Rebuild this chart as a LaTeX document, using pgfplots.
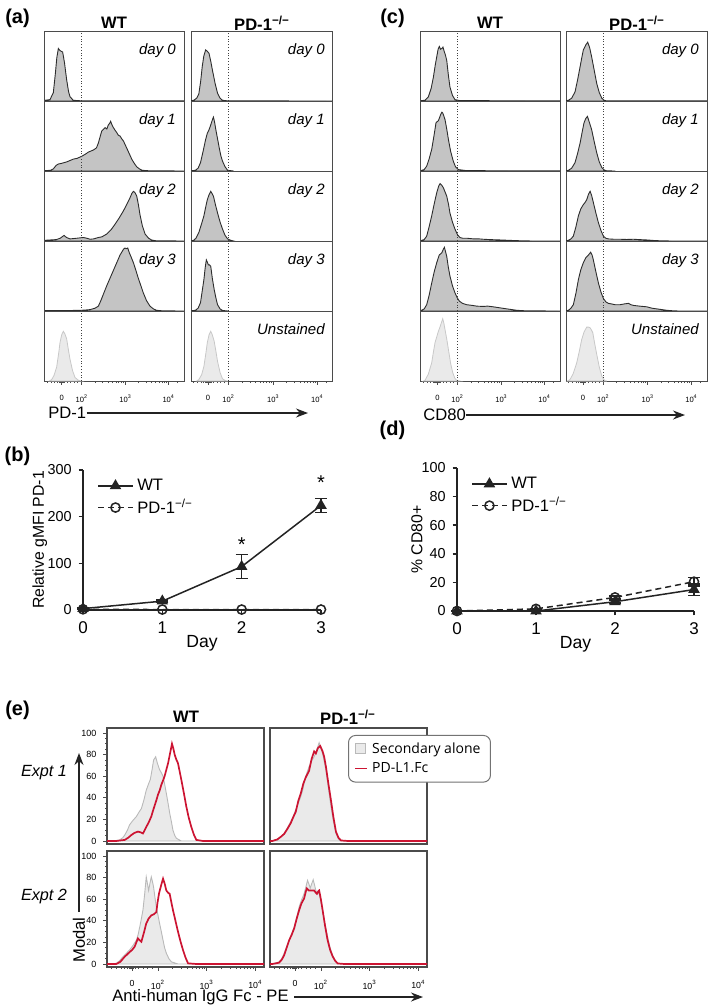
\documentclass[border=0pt]{standalone}
\usepackage{fontspec}
\setmainfont{Liberation Sans}
\newfontfamily\legfont{Open Sans}
\usepackage{pgfplots}
\pgfplotsset{compat=1.18}
\usetikzlibrary{arrows.meta}

\definecolor{histfill}{RGB}{196,196,196}
\definecolor{histline}{RGB}{45,45,45}
\definecolor{unfill}{RGB}{234,234,234}
\definecolor{unline}{RGB}{200,200,200}
\definecolor{secline}{RGB}{185,185,185}
\definecolor{pdred}{RGB}{204,20,50}
\definecolor{boxgray}{RGB}{75,75,75}
\definecolor{ink}{RGB}{35,35,35}

\newcommand{\fs}[1]{\fontsize{#1}{#1}\selectfont}

\tikzset{daylab/.style={anchor=north east, inner sep=0pt, font=\itshape\fs{7.5}}}

\pgfplotsset{
  /pgf/number format/assume math mode=true,
  cell/.style={scale only axis, anchor=north west, height=35pt,
    xmin=0, xmax=1, ymin=0, ymax=1, xtick=\empty, ytick=\empty,
    axis line style={draw=boxgray, line width=0.5pt}},
  lastrow/.style={
    xtick={0.12,0.265,0.58,0.89},
    xticklabels={0,10\textsuperscript{2},10\textsuperscript{3},10\textsuperscript{4}},
    minor xtick={0.02,0.045,0.07,0.09,0.1,0.107,0.112,0.116,0.124,0.128,0.133,0.14,0.16,0.185,0.21,0.235,0.36,0.415,0.455,0.485,0.51,0.531,0.549,0.565,0.673,0.728,0.767,0.797,0.821,0.842,0.86,0.876,0.95},
    xtick pos=left, tick align=outside,
    major tick length=1.8pt, minor tick length=1.1pt,
    tick style={boxgray, line width=0.35pt},
    x tick label style={font=\fs{3.8}, yshift=-1.6pt}},
  hist/.style={draw=histline, fill=histfill, line width=0.45pt},
  unst/.style={draw=unline, fill=unfill, line width=0.4pt},
  gate/.style={densely dotted, draw=black!75, line width=0.4pt},
  ecell/.style={scale only axis, anchor=north west, width=78.5pt, height=58pt,
    xmin=0, xmax=1, ymin=-2.8, ymax=104.6, xtick=\empty, ytick=\empty,
    axis line style={draw=boxgray, line width=0.55pt}},
  eleft/.style={ytick={0,20,40,60,80,100}, minor y tick num=3, ytick pos=left,
    tick align=outside, major tick length=1.8pt, minor tick length=1pt,
    tick style={boxgray, line width=0.35pt},
    y tick label style={font=\fs{4.5}}},
  ebottom/.style={xtick={0.16,0.325,0.635,0.945},
    xticklabels={0,10\textsuperscript{2},10\textsuperscript{3},10\textsuperscript{4}},
    minor xtick={0.03,0.06,0.09,0.11,0.13,0.14,0.15,0.155,0.165,0.17,0.18,0.2,0.23,0.26,0.29,0.418,0.473,0.512,0.542,0.566,0.587,0.605,0.621,0.728,0.783,0.822,0.852,0.876,0.897,0.915,0.931},
    xtick pos=left, tick align=outside, major tick length=1.8pt, minor tick length=1pt,
    tick style={boxgray, line width=0.35pt},
    x tick label style={font=\fs{4.4}, yshift=-1.5pt}},
  sec/.style={draw=secline, fill=unfill, line width=0.45pt,
    legend image code/.code={\draw[##1, sharp corners] (0pt,-2.3pt) rectangle (5pt,2.7pt);}},
  pdl/.style={draw=pdred, line width=0.85pt,
    legend image code/.code={\draw[##1, sharp corners] (0pt,0pt) -- (6pt,0pt);}},
  trend/.style={scale only axis, anchor=south west, clip=false,
    axis x line*=bottom, axis y line*=left,
    axis line style={-, ink, line width=0.75pt},
    xmin=0, xmax=3, xtick={0,1,2,3}, tick align=outside, major tick length=2.2pt,
    tick style={ink, line width=0.75pt},
    x tick label style={font=\fs{8.5}}, y tick label style={font=\fs{7.2}},
    xlabel={Day},
    xlabel style={font=\fs{8.8}, at={(axis description cs:0.5,0)}, anchor=center, yshift=-16.5pt},
    legend style={at={(rel axis cs:0.06,0.97)}, anchor=north west, draw=none, fill=none,
      font=\fs{8.3}, row sep=-1pt, inner sep=0pt},
    legend cell align=left},
  wt/.style={ink, line width=0.75pt, mark=triangle*, mark size=2.6pt, mark options={fill=ink}},
  ko/.style={ink, line width=0.75pt, dash pattern=on 3pt off 2pt, mark=o, mark size=2.3pt,
    mark options={solid, fill=white}},
  ebar/.style={error bars/.cd, y dir=both, y explicit,
    error bar style={ink, line width=0.75pt, solid},
    error mark options={rotate=90, ink, line width=0.75pt, mark size=3pt, solid}},
}

% one histogram cell of panels (a) and (c)
\newcommand{\hcell}[7]{%
  \begin{axis}[cell, at={(#1,#2)}, width=#3, #4]
    \addplot[#5] coordinates {#6} \closedcycle;
    \addplot[gate] coordinates {(0.265,0) (0.265,1)};
    \node[daylab] at (rel axis cs:0.944,0.83) {#7};
  \end{axis}}

% one cell of panel (e)
\newcommand{\ecell}[5]{%
  \begin{axis}[ecell, at={(#1,#2)}, #3]
    \addplot[sec] coordinates {#4} \closedcycle;
    \addplot[pdl] coordinates {#5};
  \end{axis}}

\begin{document}
\begin{tikzpicture}
\path[use as bounding box] (0,0) rectangle (354.5pt,-504pt);

% ---------- panel labels and headers
\node[font=\bfseries\fs{10}] at (8.75pt,-9pt) {(a)};
\node[font=\bfseries\fs{10}] at (8.75pt,-228pt) {(b)};
\node[font=\bfseries\fs{10}] at (196.25pt,-9pt) {(c)};
\node[font=\bfseries\fs{10}] at (196.25pt,-215pt) {(d)};
\node[font=\bfseries\fs{10}] at (8.75pt,-355pt) {(e)};

\node[font=\bfseries\fs{8.3}] at (57pt,-11.5pt) {WT};
\node[font=\bfseries\fs{8.3}] at (131pt,-11.5pt) {PD-1\textsuperscript{−/−}};
\node[font=\bfseries\fs{8.3}] at (245pt,-11.5pt) {WT};
\node[font=\bfseries\fs{8.3}] at (318.5pt,-11.5pt) {PD-1\textsuperscript{−/−}};
\node[font=\bfseries\fs{8.3}] at (93pt,-358.5pt) {WT};
\node[font=\bfseries\fs{8.3}] at (174pt,-358.5pt) {PD-1\textsuperscript{−/−}};

% ---------- (a) PD-1, WT column
\hcell{22.5pt}{-15.5pt}{69.5pt}{}{hist}{(0,0.01)(0.036,0.02)(0.06,0.12)(0.075,0.4)(0.085,0.62)(0.096,0.75)(0.108,0.72)(0.127,0.7)(0.14,0.55)(0.156,0.3)(0.17,0.13)(0.18,0.06)(0.204,0.01)(0.26,0.003)(1,0.003)}{day 0}
\hcell{22.5pt}{-50.5pt}{69.5pt}{}{hist}{(0,0.005)(0.04,0.01)(0.06,0.03)(0.08,0.08)(0.096,0.1)(0.12,0.11)(0.156,0.13)(0.18,0.15)(0.204,0.17)(0.23,0.18)(0.264,0.21)(0.29,0.24)(0.312,0.27)(0.348,0.3)(0.37,0.33)(0.384,0.4)(0.398,0.5)(0.408,0.57)(0.432,0.62)(0.445,0.6)(0.456,0.66)(0.465,0.68)(0.472,0.71)(0.482,0.66)(0.492,0.62)(0.505,0.58)(0.516,0.55)(0.528,0.51)(0.54,0.5)(0.552,0.46)(0.564,0.43)(0.578,0.37)(0.592,0.31)(0.608,0.24)(0.624,0.17)(0.642,0.11)(0.66,0.06)(0.68,0.03)(0.7,0.01)(0.75,0.003)(1,0)}{day 1}
\hcell{22.5pt}{-85.5pt}{69.5pt}{}{hist}{(0,0.01)(0.08,0.02)(0.11,0.04)(0.137,0.08)(0.155,0.05)(0.18,0.03)(0.23,0.04)(0.276,0.05)(0.3,0.04)(0.324,0.025)(0.35,0.03)(0.384,0.05)(0.41,0.06)(0.444,0.1)(0.475,0.16)(0.504,0.24)(0.534,0.33)(0.564,0.43)(0.59,0.53)(0.612,0.62)(0.625,0.68)(0.636,0.71)(0.648,0.69)(0.66,0.64)(0.672,0.52)(0.683,0.38)(0.7,0.22)(0.72,0.1)(0.745,0.04)(0.767,0.014)(0.8,0.003)(1,0)}{day 2}
\hcell{22.5pt}{-120.5pt}{69.5pt}{}{hist}{(0,0.005)(0.1,0.005)(0.2,0.008)(0.28,0.012)(0.324,0.02)(0.36,0.04)(0.384,0.07)(0.4,0.14)(0.42,0.24)(0.444,0.36)(0.468,0.47)(0.492,0.58)(0.516,0.69)(0.54,0.8)(0.564,0.88)(0.575,0.9)(0.583,0.89)(0.595,0.9)(0.607,0.83)(0.62,0.77)(0.636,0.69)(0.654,0.58)(0.671,0.47)(0.69,0.36)(0.707,0.26)(0.73,0.15)(0.755,0.07)(0.78,0.03)(0.803,0.01)(0.85,0.002)(1,0)}{day 3}
\hcell{22.5pt}{-155.5pt}{69.5pt}{lastrow}{unst}{(0.03,0)(0.048,0.02)(0.065,0.08)(0.084,0.2)(0.1,0.42)(0.108,0.55)(0.12,0.66)(0.132,0.71)(0.144,0.67)(0.156,0.6)(0.168,0.45)(0.18,0.31)(0.198,0.15)(0.216,0.05)(0.24,0.01)(0.26,0)}{}

% ---------- (a) PD-1, knockout column
\hcell{95.5pt}{-15.5pt}{71pt}{}{hist}{(0,0.005)(0.019,0.01)(0.04,0.04)(0.055,0.1)(0.068,0.28)(0.079,0.49)(0.09,0.64)(0.103,0.73)(0.115,0.71)(0.127,0.68)(0.14,0.56)(0.151,0.44)(0.17,0.25)(0.187,0.11)(0.205,0.04)(0.222,0.01)(0.26,0.002)(1,0)}{day 0}
\hcell{95.5pt}{-50.5pt}{71pt}{}{hist}{(0,0.003)(0.031,0.01)(0.05,0.04)(0.067,0.12)(0.085,0.28)(0.103,0.45)(0.115,0.54)(0.127,0.59)(0.136,0.64)(0.144,0.69)(0.152,0.74)(0.158,0.77)(0.166,0.7)(0.175,0.59)(0.187,0.46)(0.199,0.33)(0.21,0.22)(0.222,0.14)(0.24,0.06)(0.258,0.01)(0.3,0)}{day 1}
\hcell{95.5pt}{-85.5pt}{71pt}{}{hist}{(0,0.003)(0.019,0.01)(0.035,0.04)(0.055,0.12)(0.075,0.25)(0.091,0.36)(0.105,0.5)(0.115,0.59)(0.127,0.66)(0.139,0.71)(0.148,0.68)(0.158,0.64)(0.172,0.52)(0.187,0.4)(0.205,0.27)(0.222,0.17)(0.24,0.08)(0.258,0.03)(0.28,0.01)(0.3,0)}{day 2}
\hcell{95.5pt}{-120.5pt}{71pt}{}{hist}{(0,0.003)(0.031,0.01)(0.05,0.04)(0.067,0.12)(0.08,0.3)(0.091,0.45)(0.1,0.62)(0.108,0.73)(0.115,0.7)(0.122,0.66)(0.13,0.66)(0.139,0.64)(0.15,0.47)(0.163,0.31)(0.175,0.19)(0.187,0.09)(0.205,0.03)(0.222,0.008)(0.26,0)}{day 3}
\hcell{95.5pt}{-155.5pt}{71pt}{lastrow}{unst}{(0.04,0)(0.055,0.02)(0.075,0.09)(0.091,0.21)(0.105,0.4)(0.115,0.55)(0.127,0.66)(0.139,0.71)(0.15,0.66)(0.163,0.57)(0.175,0.43)(0.187,0.28)(0.205,0.12)(0.222,0.03)(0.246,0.003)(0.26,0)}{Unstained}

\node[anchor=west, inner sep=0pt, font=\fs{8.3}] (pdlab) at (24pt,-206.5pt) {PD-1};
\draw[ink, line width=0.55pt, -{Stealth[length=6pt,width=4.5pt]}] (pdlab.east) -- (154pt,-206.5pt);

% ---------- (c) CD80, WT column
\hcell{210.35pt}{-15.5pt}{69.65pt}{}{hist}{(0,0.005)(0.03,0.01)(0.055,0.06)(0.075,0.18)(0.091,0.34)(0.105,0.52)(0.115,0.63)(0.125,0.74)(0.134,0.78)(0.142,0.74)(0.151,0.75)(0.16,0.77)(0.167,0.72)(0.177,0.66)(0.187,0.58)(0.198,0.38)(0.21,0.2)(0.228,0.08)(0.246,0.02)(0.282,0.005)(1,0.003)}{}
\hcell{210.35pt}{-50.5pt}{69.65pt}{}{hist}{(0,0.005)(0.025,0.02)(0.043,0.07)(0.06,0.17)(0.079,0.31)(0.095,0.5)(0.11,0.69)(0.127,0.72)(0.135,0.76)(0.144,0.81)(0.152,0.84)(0.158,0.83)(0.167,0.78)(0.175,0.73)(0.187,0.6)(0.199,0.45)(0.215,0.28)(0.234,0.14)(0.25,0.06)(0.27,0.02)(0.33,0.005)(1,0.002)}{}
\hcell{210.35pt}{-85.5pt}{69.65pt}{}{hist}{(0,0.005)(0.025,0.02)(0.043,0.07)(0.06,0.2)(0.079,0.36)(0.097,0.53)(0.115,0.69)(0.13,0.79)(0.139,0.82)(0.15,0.8)(0.163,0.76)(0.175,0.7)(0.187,0.64)(0.2,0.52)(0.21,0.4)(0.228,0.27)(0.246,0.17)(0.264,0.09)(0.282,0.05)(0.3,0.04)(0.33,0.04)(0.38,0.03)(0.42,0.03)(0.45,0.025)(0.5,0.02)(0.57,0.015)(0.63,0.01)(0.69,0.005)(0.8,0)(1,0)}{}
\hcell{210.35pt}{-120.5pt}{69.65pt}{}{hist}{(0,0.005)(0.025,0.03)(0.043,0.09)(0.06,0.22)(0.079,0.4)(0.097,0.56)(0.115,0.69)(0.133,0.8)(0.151,0.83)(0.162,0.88)(0.17,0.91)(0.178,0.85)(0.187,0.78)(0.198,0.63)(0.21,0.5)(0.228,0.36)(0.246,0.26)(0.262,0.19)(0.278,0.14)(0.3,0.11)(0.33,0.09)(0.37,0.08)(0.4,0.07)(0.45,0.065)(0.48,0.07)(0.52,0.06)(0.57,0.045)(0.62,0.03)(0.69,0.01)(0.76,0.002)(1,0)}{}
\hcell{210.35pt}{-155.5pt}{69.65pt}{lastrow}{unst}{(0.02,0)(0.031,0.01)(0.055,0.1)(0.079,0.26)(0.09,0.4)(0.103,0.55)(0.115,0.63)(0.127,0.71)(0.14,0.78)(0.158,0.89)(0.166,0.83)(0.175,0.73)(0.187,0.6)(0.199,0.45)(0.215,0.25)(0.23,0.12)(0.245,0.04)(0.258,0.01)(0.28,0)}{}

% ---------- (c) CD80, knockout column
\hcell{283pt}{-15.5pt}{70.5pt}{}{hist}{(0,0.005)(0.017,0.01)(0.04,0.04)(0.064,0.13)(0.082,0.3)(0.1,0.49)(0.112,0.62)(0.123,0.73)(0.14,0.8)(0.154,0.84)(0.168,0.76)(0.182,0.63)(0.2,0.44)(0.218,0.25)(0.236,0.12)(0.254,0.04)(0.27,0.01)(0.289,0.002)(1,0.002)}{day 0}
\hcell{283pt}{-50.5pt}{70.5pt}{}{hist}{(0,0.003)(0.017,0.01)(0.04,0.04)(0.064,0.12)(0.082,0.25)(0.1,0.4)(0.115,0.56)(0.128,0.69)(0.14,0.75)(0.152,0.78)(0.165,0.7)(0.182,0.59)(0.2,0.42)(0.218,0.26)(0.236,0.13)(0.254,0.05)(0.27,0.015)(0.289,0.002)(0.35,0)}{day 1}
\hcell{283pt}{-85.5pt}{70.5pt}{}{hist}{(0,0.003)(0.017,0.01)(0.035,0.03)(0.052,0.07)(0.07,0.2)(0.088,0.36)(0.105,0.46)(0.123,0.52)(0.135,0.55)(0.147,0.59)(0.16,0.67)(0.171,0.71)(0.182,0.65)(0.194,0.55)(0.212,0.4)(0.23,0.26)(0.248,0.15)(0.265,0.07)(0.282,0.04)(0.3,0.03)(0.34,0.025)(0.384,0.025)(0.43,0.022)(0.479,0.025)(0.52,0.02)(0.573,0.015)(0.62,0.008)(0.668,0.003)(0.75,0)(1,0)}{day 2}
\hcell{283pt}{-120.5pt}{70.5pt}{}{hist}{(0,0.003)(0.017,0.01)(0.035,0.04)(0.052,0.09)(0.07,0.25)(0.088,0.45)(0.105,0.59)(0.123,0.69)(0.14,0.76)(0.159,0.8)(0.175,0.84)(0.185,0.8)(0.194,0.73)(0.212,0.56)(0.23,0.4)(0.248,0.27)(0.265,0.18)(0.283,0.13)(0.3,0.11)(0.325,0.1)(0.348,0.09)(0.365,0.09)(0.384,0.09)(0.41,0.1)(0.443,0.11)(0.46,0.09)(0.479,0.08)(0.52,0.07)(0.573,0.06)(0.61,0.04)(0.645,0.03)(0.68,0.02)(0.716,0.01)(0.76,0.003)(0.8,0)(1,0)}{day 3}
\hcell{283pt}{-155.5pt}{70.5pt}{lastrow}{unst}{(0.01,0)(0.028,0.02)(0.05,0.1)(0.076,0.26)(0.095,0.43)(0.111,0.59)(0.128,0.7)(0.147,0.77)(0.16,0.77)(0.171,0.76)(0.18,0.73)(0.19,0.69)(0.204,0.53)(0.218,0.38)(0.236,0.2)(0.254,0.07)(0.265,0.03)(0.277,0.005)(0.29,0)}{Unstained}

\node[anchor=west, inner sep=0pt, font=\fs{8.3}] (cdlab) at (211.5pt,-207.5pt) {CD80};
\draw[ink, line width=0.55pt, -{Stealth[length=6pt,width=4.5pt]}] (cdlab.east) -- (342.5pt,-207.5pt);

% ---------- (b) relative gMFI PD-1
\begin{axis}[trend, at={(41.5pt,-305pt)}, width=119pt, height=70pt,
  ymin=0, ymax=300, ytick={0,100,200,300},
  ylabel={Relative gMFI PD-1},
  ylabel style={font=\fs{7.9}, at={(axis description cs:-0.182,0.5)}, anchor=center}]
  \addplot[wt, ebar]
    coordinates {(0,3) +- (0,1) (1,19) +- (0,2) (2,93) +- (0,26) (3,224) +- (0,15)};
  \addplot[ko] coordinates {(0,1.5) (1,1) (2,1) (3,1)};
  \legend{WT, PD-1\textsuperscript{−/−}}
  \node[font=\fs{10}] at (axis cs:2,140) {*};
  \node[font=\fs{10}] at (axis cs:3,273) {*};
\end{axis}

% ---------- (d) % CD80+
\begin{axis}[trend, at={(228.5pt,-305.5pt)}, width=118.5pt, height=71.5pt,
  ymin=0, ymax=100, ytick={0,20,40,60,80,100},
  ylabel={\% CD80+},
  ylabel style={font=\fs{7.9}, at={(axis description cs:-0.169,0.5)}, anchor=center}]
  \addplot[wt, ebar]
    coordinates {(0,0) +- (0,0) (1,0) +- (0,0) (2,6.5) +- (0,1) (3,15) +- (0,4)};
  \addplot[ko, ebar]
    coordinates {(0,0) +- (0,0) (1,1.5) +- (0,0) (2,9.5) +- (0,1) (3,20.5) +- (0,3)};
  \legend{WT, PD-1\textsuperscript{−/−}}
\end{axis}

% ---------- (e) PD-L1.Fc binding
\ecell{53.5pt}{-364pt}{eleft}{(0,0)(0.038,0)(0.081,1)(0.1,3)(0.113,5.5)(0.13,10)(0.144,15)(0.165,19)(0.187,22.6)(0.205,27)(0.219,30)(0.235,38)(0.25,47)(0.265,53)(0.276,57)(0.287,66)(0.297,75)(0.31,78)(0.321,72)(0.335,66)(0.347,63)(0.357,60)(0.368,52)(0.378,44)(0.389,35)(0.399,26)(0.41,18)(0.42,10)(0.432,5)(0.442,2.5)(0.473,0)(1,0)}{(0,0)(0.059,0)(0.113,1)(0.135,3)(0.155,5.5)(0.175,7.5)(0.197,8.7)(0.215,8)(0.229,7)(0.24,10)(0.25,13)(0.265,17)(0.282,22.6)(0.293,28)(0.304,33)(0.315,38)(0.325,43)(0.336,47)(0.346,52)(0.357,56)(0.367,60)(0.378,66)(0.389,72)(0.4,80)(0.414,90)(0.422,86)(0.431,80)(0.44,76)(0.452,72)(0.462,65)(0.473,57)(0.49,44)(0.505,32)(0.52,22)(0.537,13)(0.553,6)(0.569,1)(0.611,0)(1,0)}
\ecell{135pt}{-364pt}{legend entries={Secondary alone,PD-L1.Fc},
  legend style={at={(rel axis cs:0.497,0.94)}, anchor=north west, draw=black!55, line width=0.5pt,
    rounded corners=3.5pt, fill=white, font=\legfont\fs{7}, inner xsep=3pt, inner ysep=1.5pt, row sep=-1pt},
  legend cell align=left}{(0,0)(0.015,0)(0.047,1)(0.07,4)(0.09,7)(0.11,12)(0.132,18)(0.148,23)(0.164,29)(0.18,35)(0.196,41)(0.21,48)(0.222,57)(0.235,63)(0.249,69)(0.265,74)(0.281,78)(0.297,84)(0.313,91)(0.324,86)(0.335,81)(0.345,74)(0.356,66)(0.372,49)(0.388,32)(0.404,18)(0.42,7)(0.436,2)(0.452,0)(1,0)}{(0,0)(0.015,0)(0.047,1.5)(0.07,4)(0.09,6.5)(0.11,11)(0.132,16.5)(0.148,22)(0.164,27)(0.18,37)(0.196,44)(0.212,53)(0.228,59)(0.249,65)(0.265,76)(0.281,83)(0.292,81)(0.305,86)(0.32,88)(0.335,83)(0.345,78)(0.356,69)(0.372,53)(0.388,38)(0.404,22)(0.42,8.7)(0.436,3)(0.452,0.5)(0.495,0)(1,0)}
\ecell{53.5pt}{-425.5pt}{eleft, ebottom}{(0,0)(0.017,0)(0.059,0.6)(0.08,3)(0.102,6.8)(0.124,10)(0.144,13)(0.165,17)(0.187,22)(0.198,27)(0.208,34)(0.219,42)(0.229,50)(0.24,65)(0.25,80.6)(0.258,74)(0.265,68)(0.274,75)(0.282,80.6)(0.29,76)(0.297,71)(0.305,62)(0.314,53)(0.325,45)(0.335,37.5)(0.346,30)(0.357,22)(0.367,15)(0.378,10)(0.394,5)(0.41,2)(0.452,0)(1,0)}{(0,0)(0.017,0)(0.059,0)(0.085,2)(0.113,6.8)(0.13,9)(0.144,11)(0.16,13)(0.176,16)(0.187,20)(0.197,23.7)(0.208,22)(0.219,20.6)(0.235,29)(0.25,37.5)(0.265,42)(0.282,45)(0.298,46)(0.314,48)(0.322,57)(0.331,65)(0.345,73)(0.357,79)(0.368,74)(0.378,68)(0.389,66)(0.399,65)(0.41,57)(0.42,50)(0.436,40)(0.452,30)(0.468,21)(0.484,13)(0.5,6)(0.516,0.6)(0.569,0)(1,0)}
\ecell{135pt}{-425.5pt}{ebottom}{(0,0)(0.015,0)(0.058,2)(0.075,5)(0.09,10)(0.106,16)(0.122,22)(0.138,28)(0.154,34)(0.17,43)(0.186,53)(0.2,59)(0.217,65)(0.228,71)(0.239,77.5)(0.248,74)(0.256,70)(0.265,74)(0.275,78)(0.284,73)(0.292,68)(0.302,66)(0.313,65)(0.324,58)(0.335,50)(0.35,37)(0.367,25)(0.383,15)(0.399,8)(0.415,3)(0.431,0.6)(0.473,0)(1,0)}{(0,0)(0.015,0)(0.058,1.2)(0.075,4)(0.09,8)(0.106,15)(0.122,22)(0.138,27)(0.154,33)(0.17,42)(0.186,50)(0.2,56)(0.217,60.6)(0.228,67)(0.235,70)(0.248,68)(0.26,68)(0.27,68)(0.281,68)(0.292,66)(0.299,65)(0.306,67)(0.313,68)(0.324,60)(0.335,50)(0.35,36)(0.367,22)(0.383,13)(0.399,7)(0.415,3)(0.431,0.5)(0.473,0)(1,0)}

\node[font=\itshape\fs{8.1}] at (22pt,-386.5pt) {Expt 1};
\node[font=\itshape\fs{8.1}] at (22pt,-448.5pt) {Expt 2};
\node[rotate=90, inner sep=0pt, font=\fs{8.3}] at (39.5pt,-470pt) {Modal};
\draw[ink, line width=0.55pt, -{Stealth[length=6pt,width=4.5pt]}] (39.5pt,-456pt) -- (39.5pt,-376.5pt);
\node[anchor=west, inner sep=0pt, font=\fs{8.3}] (felab) at (56pt,-498.5pt) {Anti-human IgG Fc - PE};
\draw[ink, line width=0.55pt, -{Stealth[length=6pt,width=4.5pt]}] ([xshift=2.5pt]felab.east) -- (211.5pt,-498.5pt);
\end{tikzpicture}
\end{document}
